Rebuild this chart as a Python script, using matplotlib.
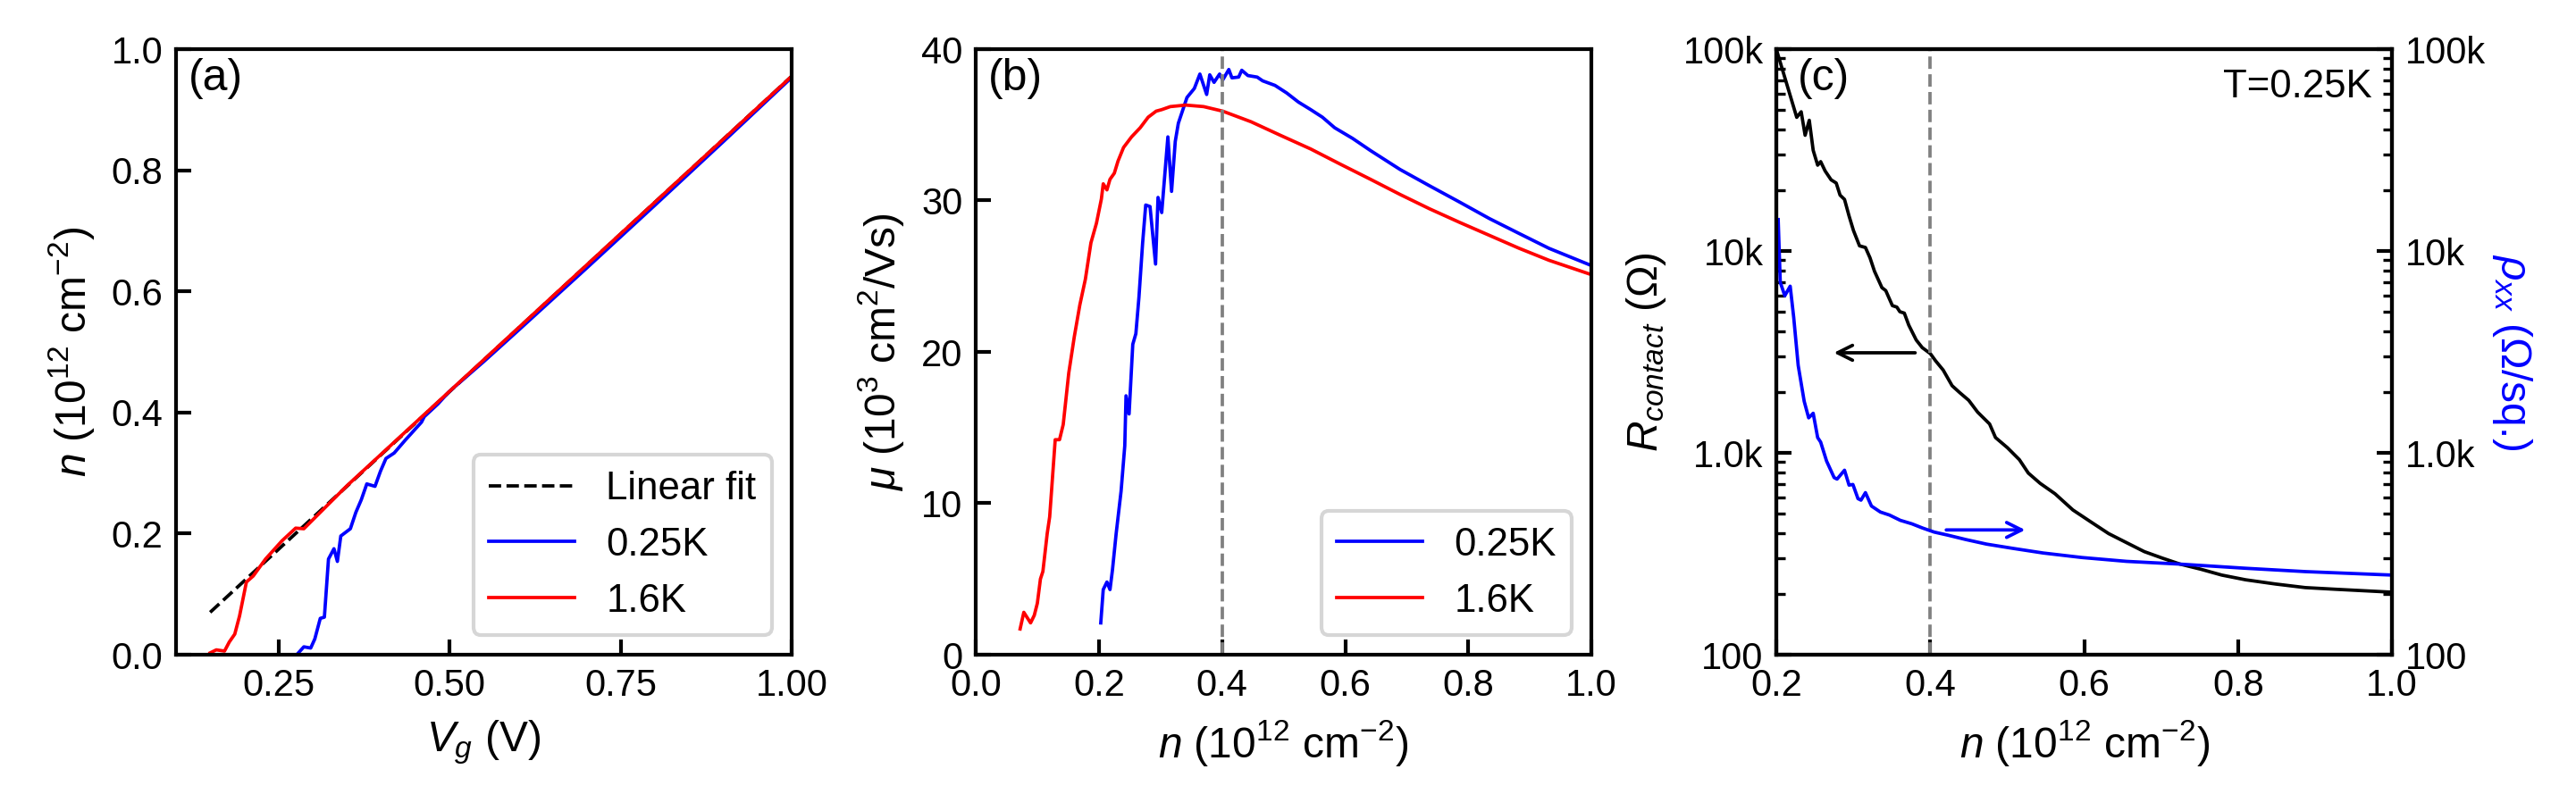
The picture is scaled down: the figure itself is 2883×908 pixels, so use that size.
import matplotlib
matplotlib.use("Agg")
import matplotlib.pyplot as plt
from matplotlib.ticker import FuncFormatter, LogLocator, NullFormatter

plt.rcParams["font.family"] = ["Liberation Sans", "DejaVu Sans"]
plt.rcParams["font.size"] = 10
plt.rcParams["axes.labelsize"] = 11.5
plt.rcParams["legend.fontsize"] = 10.5
plt.rcParams["mathtext.fontset"] = "custom"
plt.rcParams["mathtext.rm"] = "Liberation Sans"
plt.rcParams["mathtext.it"] = "Liberation Sans:italic"
plt.rcParams["axes.linewidth"] = 1.0
for ax_name in ("xtick", "ytick"):
    plt.rcParams[ax_name + ".direction"] = "in"
    plt.rcParams[ax_name + ".major.width"] = 1.0
    plt.rcParams[ax_name + ".major.size"] = 4.0
    plt.rcParams[ax_name + ".minor.width"] = 0.8
    plt.rcParams[ax_name + ".minor.size"] = 2.5

# (a) carrier density vs gate voltage
fit_vg = [0.15, 1.0]
fit_n = [0.07, 0.955]

vg_16 = [0.150, 0.159, 0.171, 0.178, 0.186, 0.193, 0.203, 0.213, 0.231, 0.255,
         0.275, 0.287, 0.303, 0.35, 0.40, 0.45, 0.50, 0.60, 0.70, 0.80, 0.90, 1.0]
n_16 = [0.003, 0.008, 0.006, 0.021, 0.034, 0.064, 0.120, 0.130, 0.158, 0.188,
        0.209, 0.208, 0.226, 0.279, 0.331, 0.383, 0.435, 0.539, 0.643, 0.747, 0.851, 0.955]

vg_025 = [0.279, 0.287, 0.297, 0.303, 0.311, 0.317, 0.323, 0.331, 0.336, 0.341,
          0.355, 0.363, 0.371, 0.379, 0.391, 0.399, 0.407, 0.419, 0.435, 0.459,
          0.463, 0.483, 0.499, 0.55, 0.60, 0.70, 0.80, 0.90, 1.0]
n_025 = [0.003, 0.013, 0.011, 0.026, 0.060, 0.062, 0.158, 0.175, 0.154, 0.196,
         0.208, 0.235, 0.256, 0.282, 0.278, 0.303, 0.324, 0.333, 0.354, 0.384,
         0.393, 0.414, 0.434, 0.484, 0.535, 0.638, 0.742, 0.847, 0.953]

# (b) mobility vs density
nb_16 = [0.072, 0.078, 0.089, 0.095, 0.100, 0.105, 0.109, 0.116, 0.120, 0.129,
         0.136, 0.142, 0.151, 0.160, 0.169, 0.178, 0.187, 0.196, 0.204, 0.207,
         0.213, 0.218, 0.225, 0.231, 0.240, 0.253, 0.267, 0.280, 0.293, 0.302,
         0.316, 0.341, 0.370, 0.401, 0.447, 0.495, 0.544, 0.592, 0.641, 0.689,
         0.737, 0.786, 0.834, 0.882, 0.931, 1.0]
mu_16 = [1.7, 2.8, 2.1, 2.6, 3.4, 5.0, 5.5, 8.0, 9.1, 14.2,
         14.2, 15.2, 18.6, 21.0, 23.1, 24.8, 27.2, 28.5, 30.1, 31.1,
         30.7, 31.4, 31.8, 32.6, 33.5, 34.2, 34.8, 35.5, 35.9, 36.0,
         36.2, 36.3, 36.2, 35.9, 35.2, 34.3, 33.4, 32.4, 31.4, 30.4,
         29.45, 28.55, 27.7, 26.85, 26.05, 25.1]

nb_025 = [0.203, 0.207, 0.213, 0.218, 0.222, 0.228, 0.236, 0.242, 0.244, 0.249,
          0.255, 0.260, 0.265, 0.271, 0.276, 0.283, 0.292, 0.296, 0.302, 0.312,
          0.318, 0.324, 0.329, 0.343, 0.355, 0.364, 0.375, 0.380, 0.387, 0.396,
          0.401, 0.411, 0.416, 0.427, 0.432, 0.442, 0.457, 0.466, 0.486, 0.505,
          0.524, 0.544, 0.563, 0.583, 0.612, 0.641, 0.689, 0.737, 0.786, 0.834,
          0.882, 0.931, 1.0]
mu_025 = [2.1, 4.3, 4.8, 4.3, 5.6, 8.0, 10.8, 13.8, 17.1, 15.9,
          20.5, 21.2, 23.6, 27.2, 29.7, 29.6, 25.8, 30.2, 29.2, 34.2,
          30.6, 33.9, 35.1, 36.8, 37.4, 38.35, 37.0, 38.3, 37.8, 38.35,
          37.95, 38.65, 38.1, 38.15, 38.6, 38.25, 38.15, 37.9, 37.6, 37.1,
          36.5, 36.0, 35.5, 34.8, 34.1, 33.3, 32.05, 30.97, 29.89, 28.81,
          27.83, 26.84, 25.7]

# (c) contact resistance and sheet resistivity at 0.25 K
nc_r = [0.200, 0.2264, 0.2322, 0.2373, 0.2427, 0.2478, 0.2536, 0.2575, 0.2633, 0.2711,
        0.2777, 0.2827, 0.2885, 0.2944, 0.3002, 0.308, 0.3157, 0.3216, 0.3274, 0.3371,
        0.3421, 0.3507, 0.3565, 0.3604, 0.3662, 0.372, 0.3817, 0.3895, 0.400, 0.407,
        0.4167, 0.4283, 0.438, 0.4499, 0.4615, 0.477, 0.4847, 0.5002, 0.5157, 0.5273,
        0.5427, 0.562, 0.5853, 0.6085, 0.6317, 0.6549, 0.6781, 0.7014, 0.7246, 0.7516,
        0.7787, 0.8097, 0.8484, 0.8871, 0.9257, 1.0]
r_contact = [99500, 45900, 48900, 37400, 44400, 31500, 26600, 27700, 24900, 22500,
             21700, 18900, 18000, 14900, 12600, 10600, 10400, 9250, 7940, 6580,
             6360, 5360, 5270, 5000, 4920, 4290, 3620, 3320, 3100, 2850,
             2570, 2150, 1990, 1820, 1590, 1390, 1190, 1060, 925, 794,
             706, 627, 521, 455, 398, 359, 324, 301, 281, 265,
             248, 235, 224, 215, 211, 204]

nc_rho = [0.2023, 0.205, 0.2109, 0.2179, 0.2225, 0.2283, 0.2361, 0.2419, 0.2478, 0.2536,
          0.2575, 0.2652, 0.275, 0.2788, 0.2885, 0.2944, 0.2994, 0.306, 0.3099, 0.3157,
          0.3235, 0.3351, 0.3468, 0.361, 0.376, 0.39, 0.405, 0.4228, 0.446, 0.4731,
          0.5079, 0.5466, 0.5969, 0.6549, 0.7246, 0.8097, 0.8871, 1.0]
rho_xx = [14300, 7000, 6000, 6690, 4680, 2710, 1800, 1490, 1570, 1190,
          1130, 910, 754, 741, 820, 692, 697, 593, 583, 635,
          545, 509, 492, 463, 445, 424, 405, 391, 372, 353,
          336, 319, 303, 290, 281, 268, 258, 248]


def k_format(v, pos):
    labels = {100: "100", 1000: "1.0k", 10000: "10k", 100000: "100k"}
    return labels.get(int(round(v)), "")


def log_axis(ax):
    ax.set_yscale("log")
    ax.set_ylim(100, 100000)
    ax.yaxis.set_major_locator(LogLocator(base=10, numticks=10))
    ax.yaxis.set_minor_locator(LogLocator(base=10, subs=range(2, 10), numticks=10))
    ax.yaxis.set_major_formatter(FuncFormatter(k_format))
    ax.yaxis.set_minor_formatter(NullFormatter())


fig = plt.figure(figsize=(9.61, 3.027), dpi=300)
bottom, height, width = 0.1927, 0.7467, 0.239
ax_a = fig.add_axes([0.0683, bottom, width, height])
ax_b = fig.add_axes([0.3788, bottom, width, height])
ax_c = fig.add_axes([0.6896, bottom, width, height])

lw = 0.9
tag_size = 12

# panel (a)
ax_a.plot(fit_vg, fit_n, "k--", lw=lw, label="Linear fit")
ax_a.plot(vg_025, n_025, color="blue", lw=lw, label="0.25K")
ax_a.plot(vg_16, n_16, color="red", lw=lw, label="1.6K")
ax_a.set_xlim(0.1, 1.0)
ax_a.set_ylim(0, 1.0)
ax_a.set_xticks([0.25, 0.5, 0.75, 1.0])
ax_a.set_xlabel(r"$V_g$ (V)")
ax_a.set_ylabel(r"$n$ (10$^{12}$ cm$^{-2}$)")
ax_a.legend(loc="lower right", handlelength=2.2)
ax_a.text(0.02, 0.985, "(a)", transform=ax_a.transAxes, va="top", ha="left", fontsize=tag_size)

# panel (b)
ax_b.plot(nb_025, mu_025, color="blue", lw=lw, label="0.25K")
ax_b.plot(nb_16, mu_16, color="red", lw=lw, label="1.6K")
ax_b.axvline(0.4, color="gray", ls="--", lw=lw)
ax_b.set_xlim(0, 1.0)
ax_b.set_ylim(0, 40)
ax_b.set_yticks([0, 10, 20, 30, 40])
ax_b.set_xlabel(r"$n$ (10$^{12}$ cm$^{-2}$)")
ax_b.set_ylabel(r"$\mu$ (10$^3$ cm$^2$/Vs)")
ax_b.legend(loc="lower right", handlelength=2.2)
ax_b.text(0.02, 0.985, "(b)", transform=ax_b.transAxes, va="top", ha="left", fontsize=tag_size)

# panel (c)
ax_c.plot(nc_r, r_contact, color="black", lw=lw)
ax_c.axvline(0.4, color="gray", ls="--", lw=lw)
log_axis(ax_c)
ax_c.set_xlim(0.2, 1.0)
ax_c.set_xticks([0.2, 0.4, 0.6, 0.8, 1.0])
ax_c.set_xlabel(r"$n$ (10$^{12}$ cm$^{-2}$)")
ax_c.set_ylabel(r"$R_{contact}$ ($\Omega$)")
ax_c.text(0.035, 0.985, "(c)", transform=ax_c.transAxes, va="top", ha="left", fontsize=tag_size)
ax_c.text(0.968, 0.968, "T=0.25K", transform=ax_c.transAxes, va="top", ha="right", fontsize=10.5)
ax_c.annotate("", xy=(0.265, 3130), xytext=(0.39, 3130),
              arrowprops=dict(arrowstyle="->", color="black", lw=lw))

ax_r = ax_c.twinx()
ax_r.plot(nc_rho, rho_xx, color="blue", lw=lw)
log_axis(ax_r)
ax_r.tick_params(axis="y", which="both", direction="in")
ax_r.set_ylabel(r"$\rho_{xx}$ ($\Omega$/sq.)", color="blue", rotation=270, labelpad=13)
ax_r.annotate("", xy=(0.533, 415), xytext=(0.411, 415),
              arrowprops=dict(arrowstyle="->", color="blue", lw=lw))

fig.savefig("out.png", dpi=300)
